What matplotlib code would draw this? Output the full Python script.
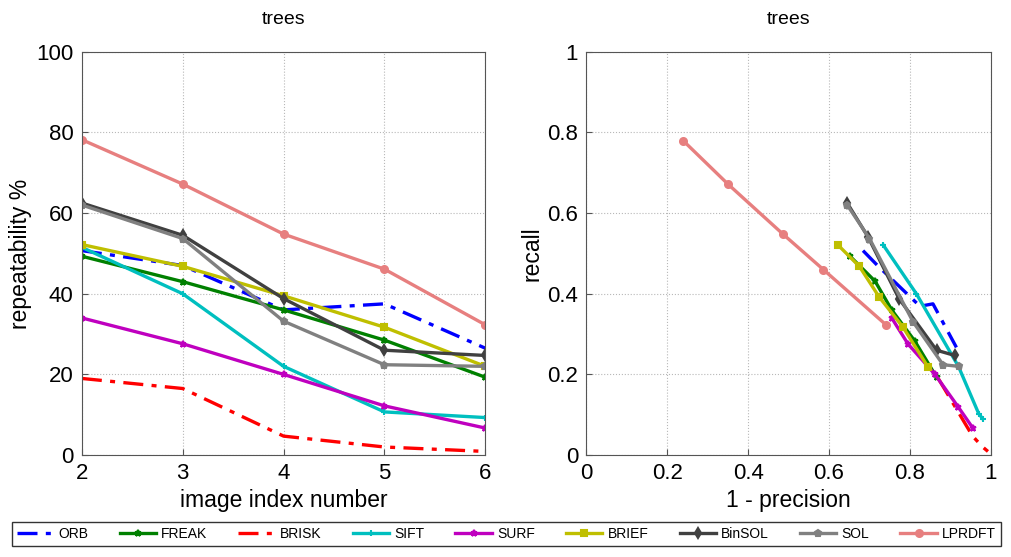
import matplotlib
matplotlib.use("Agg")
import matplotlib.pyplot as plt

plt.rcParams['font.family'] = ['Liberation Sans', 'DejaVu Sans']

names = ['ORB', 'FREAK', 'BRISK', 'SIFT', 'SURF', 'BRIEF', 'BinSOL', 'SOL', 'LPRDFT']
colors = ['#0000ff', '#008000', '#ff0000', '#00bfbf', '#bf00bf', '#bfbf00',
          '#404040', '#808080', '#e77f7f']
styles = ['-.', '-', '-.', '-', '-', '-', '-', '-', '-']
markers = ['', '*', '', '+', '*', 's', 'd', 'p', 'o']

image_index = [2, 3, 4, 5, 6]

# repeatability % per descriptor
rep = {
    'ORB':    [50.7, 47.0, 36.0, 37.5, 26.5],
    'FREAK':  [49.3, 43.0, 36.0, 28.5, 19.3],
    'BRISK':  [19.0, 16.5, 4.7, 2.0, 0.9],
    'SIFT':   [51.5, 40.0, 22.0, 10.7, 9.3],
    'SURF':   [34.0, 27.6, 20.0, 12.2, 6.7],
    'BRIEF':  [52.2, 46.8, 39.5, 31.7, 22.0],
    'BinSOL': [62.5, 54.5, 38.8, 26.0, 24.7],
    'SOL':    [62.0, 53.7, 33.2, 22.4, 22.0],
    'LPRDFT': [78.2, 67.2, 54.8, 46.1, 32.3],
}

# 1 - precision per descriptor
one_minus_prec = {
    'ORB':    [0.684, 0.72, 0.825, 0.857, 0.915],
    'FREAK':  [0.652, 0.714, 0.755, 0.812, 0.866],
    'BRISK':  [0.87, 0.885, 0.955, 0.98, 0.993],
    'SIFT':   [0.734, 0.816, 0.92, 0.970, 0.98],
    'SURF':   [0.755, 0.795, 0.862, 0.919, 0.955],
    'BRIEF':  [0.621, 0.675, 0.724, 0.783, 0.845],
    'BinSOL': [0.645, 0.697, 0.773, 0.866, 0.911],
    'SOL':    [0.645, 0.70, 0.808, 0.882, 0.921],
    'LPRDFT': [0.239, 0.35, 0.486, 0.586, 0.742],
}

# recall per descriptor
recall = {
    'ORB':    [0.507, 0.47, 0.369, 0.375, 0.267],
    'FREAK':  [0.493, 0.431, 0.36, 0.283, 0.193],
    'BRISK':  [0.19, 0.165, 0.047, 0.02, 0.009],
    'SIFT':   [0.521, 0.40, 0.22, 0.103, 0.09],
    'SURF':   [0.34, 0.276, 0.20, 0.12, 0.068],
    'BRIEF':  [0.522, 0.468, 0.392, 0.317, 0.218],
    'BinSOL': [0.625, 0.54, 0.388, 0.26, 0.247],
    'SOL':    [0.62, 0.537, 0.33, 0.224, 0.22],
    'LPRDFT': [0.78, 0.672, 0.548, 0.46, 0.322],
}

fig = plt.figure(figsize=(10.11, 5.57), dpi=100)
ax1 = fig.add_axes([0.081, 0.183, 0.399, 0.724])
ax2 = fig.add_axes([0.580, 0.183, 0.400, 0.724])

handles = []
for i, n in enumerate(names):
    kw = dict(color=colors[i], linestyle=styles[i], marker=markers[i] or None,
              markersize=5, markeredgewidth=1.5, linewidth=2.4, label=n)
    if styles[i] == '-.':
        kw['dashes'] = (6, 2.5, 1.5, 2.5)
    h, = ax1.plot(image_index, rep[n], **kw)
    ax2.plot(one_minus_prec[n], recall[n], **kw)
    handles.append(h)

for ax in (ax1, ax2):
    ax.set_title('trees', fontsize=14, pad=20)
    ax.grid(True, linestyle=':', color='#b8b8b8', linewidth=0.8)
    ax.tick_params(direction='in', labelsize=16, color='#555555', length=4, pad=6)
    for s in ax.spines.values():
        s.set_color('#555555')

ax1.set_xlim(2, 6)
ax1.set_ylim(0, 100)
ax1.set_xticks(image_index)
ax1.set_yticks([0, 20, 40, 60, 80, 100])
ax1.set_xlabel('image index number', fontsize=16.5, labelpad=3)
ax1.set_ylabel('repeatability %', fontsize=16.5, labelpad=3)

ax2.set_xlim(0, 1)
ax2.set_ylim(0, 1)
ax2.set_xticks([0, 0.2, 0.4, 0.6, 0.8, 1])
ax2.set_xticklabels(['0', '0.2', '0.4', '0.6', '0.8', '1'])
ax2.set_yticks([0, 0.2, 0.4, 0.6, 0.8, 1])
ax2.set_yticklabels(['0', '0.2', '0.4', '0.6', '0.8', '1'])
ax2.set_xlabel('1 - precision', fontsize=16.5, labelpad=3)
ax2.set_ylabel('recall', fontsize=16.5, labelpad=3)

leg = fig.legend(handles=handles, loc='lower left', ncol=9, mode='expand',
                 bbox_to_anchor=(0.005, 0.008, 0.992, 0.052), fontsize=10,
                 frameon=True, fancybox=False, edgecolor='black',
                 handlelength=2.6, handletextpad=0.4, borderpad=0.35)
leg.get_frame().set_linewidth(1.0)

fig.savefig('out.png', dpi=100)
